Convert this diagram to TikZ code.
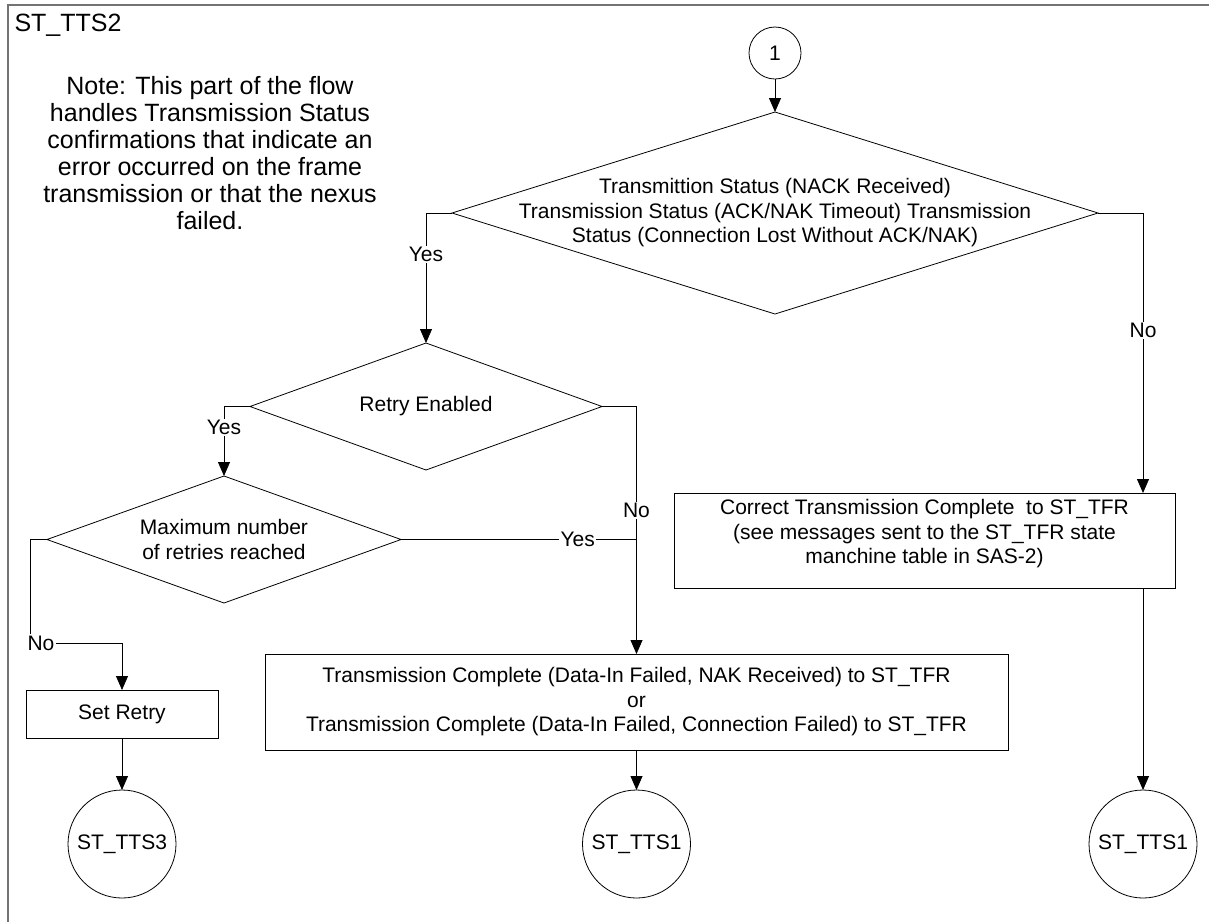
\documentclass[tikz,border=0pt]{standalone}
\usepackage{fontspec}
\setmainfont{Liberation Sans}
\usetikzlibrary{shapes.geometric,arrows.meta}

\begin{document}
\begin{tikzpicture}[x=1pt, y=-1pt,
            every node/.style={font=\fontsize{21}{24.5}\selectfont, align=center},
            decision/.style={diamond, draw, line width=0.8pt, inner sep=0pt, outer sep=0pt},
            action/.style={rectangle, draw, line width=0.8pt, inner sep=0pt, outer sep=0pt},
            state/.style={circle, draw, line width=0.8pt, inner sep=0pt, outer sep=0pt, minimum size=108pt},
            lab/.style={fill=white, inner sep=1.5pt},
            arr/.style={-{Triangle[length=14pt,width=12pt]}, line width=0.8pt},
            link/.style={line width=0.8pt}]
            \useasboundingbox (0,0) rectangle (1209,922);
            \draw[black!55, line width=1.5pt] (1209,5) -- (8,5) -- (8,922);

            \node[anchor=west, font=\fontsize{25}{27}\selectfont] (title) at (11,25) {ST\_TTS2};
            \node[font=\fontsize{25}{27}\selectfont] (note) at (210,153) {Note: This part of the flow\\handles Transmission Status\\confirmations that indicate an\\error occurred on the frame\\transmission or that the nexus\\failed.};

            \node[state, minimum size=52pt] (start) at (775,53) {1};
            \node[decision, minimum width=646pt, minimum height=202pt,
                label={center:{Transmittion Status (NACK Received)\\Transmission Status (ACK/NAK Timeout) Transmission\\Status (Connection Lost Without ACK/NAK)}}] (d1) at (775,213) {};
            \node[decision, minimum width=352pt, minimum height=127pt,
                label={center:{Retry Enabled}}] (d2) at (426,406.5) {};
            \node[decision, minimum width=354pt, minimum height=127pt,
                label={center:{Maximum number\\of retries reached}}] (d3) at (224,539.5) {};

            \node[action, minimum width=501pt, minimum height=95pt, text depth=18pt] (cbox) at (924.5,540.5) {Correct Transmission Complete~ to ST\_TFR\\(see messages sent to the ST\_TFR state\\manchine table in SAS-2)};
            \node[action, minimum width=743pt, minimum height=96pt] (tbox) at (636.5,702) {Transmission Complete (Data-In Failed, NAK Received) to ST\_TFR\\or\\Transmission Complete (Data-In Failed, Connection Failed) to ST\_TFR};
            \node[action, minimum width=192pt, minimum height=48pt] (retry) at (122,714) {Set Retry};

            \node[state] (end1) at (122,844) {ST\_TTS3};
            \node[state] (end2) at (636.5,844) {ST\_TTS1};
            \node[state] (end3) at (1143,844) {ST\_TTS1};

            \draw[arr] (start) -- (d1);
            \draw[arr] (d1.west) -| node[lab, pos=0.66] {Yes} (d2.north);
            \draw[arr] (d1.east) -| node[lab, pos=0.71] {No} (cbox.north -| end3);
            \draw[arr] (d2.west) -| node[lab, pos=0.65] {Yes} (d3.north);
            \draw[arr] (d2.east) -| node[lab, pos=0.71] {No} (tbox.north);
            \draw[link] (d3.east) -- node[lab, pos=0.75] {Yes} (d3.east -| tbox.north);
            \draw[arr] (d3.west) -- ++(-17,0) |- node[lab, pos=0.5, xshift=11pt] {No} ([yshift=47pt]retry.north) -- (retry.north);
            \draw[arr] (retry) -- (end1);
            \draw[arr] (tbox) -- (end2);
            \draw[arr] (cbox.south -| end3) -- (end3);

        \end{tikzpicture}
\end{document}
